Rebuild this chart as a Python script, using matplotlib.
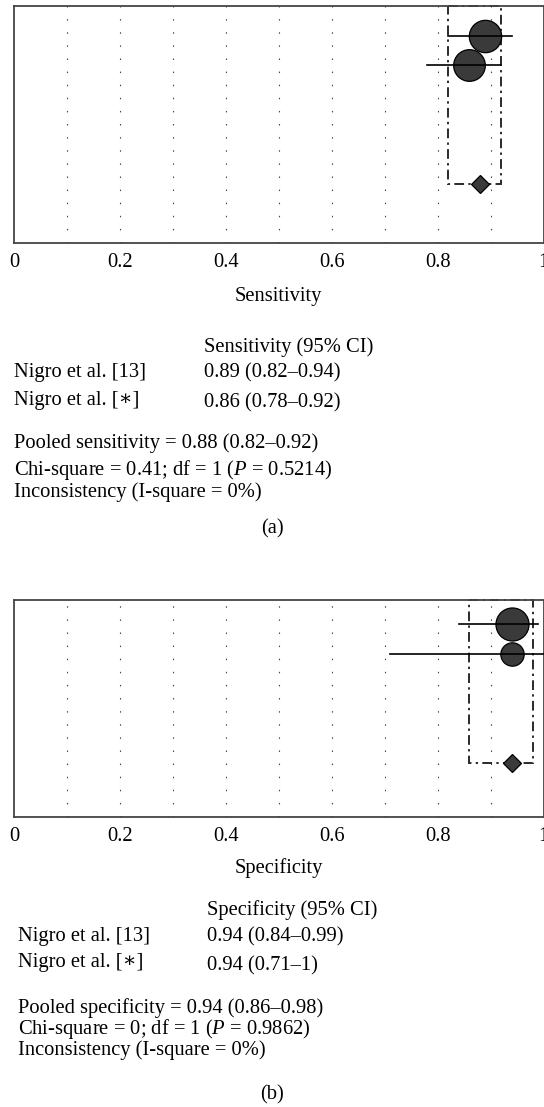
import numpy as np
import matplotlib
matplotlib.use("Agg")
import matplotlib.pyplot as plt
from matplotlib.patches import Rectangle

plt.rcParams['font.family'] = ['Liberation Serif', 'DejaVu Serif']
plt.rcParams['mathtext.fontset'] = 'custom'
plt.rcParams['mathtext.rm'] = 'Liberation Serif'
plt.rcParams['mathtext.it'] = 'Liberation Serif:italic'

# data
studies = ['Nigro et al. [13]', 'Nigro et al. [∗]']

sens = [0.89, 0.86]
sens_lo = [0.82, 0.78]
sens_hi = [0.94, 0.92]
sens_pool = 0.88
sens_pool_lo = 0.82
sens_pool_hi = 0.92

spec = [0.94, 0.94]
spec_lo = [0.84, 0.71]
spec_hi = [0.99, 1.0]
spec_pool = 0.94
spec_pool_lo = 0.86
spec_pool_hi = 0.98

xticks = [0, 0.2, 0.4, 0.6, 0.8, 1]
xticklabels = ['0', '0.2', '0.4', '0.6', '0.8', '1']

W, H = 544, 1107
FS = 14.8
fig = plt.figure(figsize=(W / 100, H / 100), dpi=100)


def px_axes(left, top, right, bottom):
    return fig.add_axes([left / W, 1 - bottom / H, (right - left) / W, (bottom - top) / H])


def forest(ax, est, lo, hi, plo, phi, pest, rows, msizes, label, label_y):
    ax.set_xlim(0, 1)
    ax.set_ylim(8, 0)
    for g in np.arange(0.1, 0.95, 0.1):
        ax.axvline(g, color='#444444', lw=0.8, ls=(0, (1.3, 10.5)), zorder=1)
    ax.add_patch(Rectangle((plo, 0), phi - plo, 6, fill=False, ec='#2a2a2a',
                           lw=1.4, ls=(0, (5, 2.2, 1.2, 2.2)), zorder=2, clip_on=False))
    for e, l, h, y, ms in zip(est, lo, hi, rows, msizes):
        ax.plot([e], [y], 'o', ms=ms, mfc='#3a3a3a', mec='black', mew=0.9, zorder=3)
        ax.plot([l, h], [y, y], color='black', lw=1.2, zorder=4, clip_on=False)
    ax.plot([pest], [6], 'D', ms=9.5, mfc='#3a3a3a', mec='black', mew=0.9, zorder=4)
    ax.set_yticks([])
    ax.set_xticks(xticks)
    ax.set_xticklabels(xticklabels, fontsize=FS)
    ax.tick_params(length=0, pad=7)
    for s in ax.spines.values():
        s.set_color('#444444')
        s.set_linewidth(1.3)
    ax.set_xlabel(label, fontsize=FS, va='center')
    ax.xaxis.set_label_coords(0.5, label_y)


ax1 = px_axes(14, 6, 543.5, 243)
forest(ax1, sens, sens_lo, sens_hi, sens_pool_lo, sens_pool_hi, sens_pool,
       [1, 2], [23.3, 22.8], 'Sensitivity', -53 / 237)

ax2 = px_axes(14, 600, 543.5, 817)
forest(ax2, spec, spec_lo, spec_hi, spec_pool_lo, spec_pool_hi, spec_pool,
       [0.88, 2], [23.8, 16.8], 'Specificity', -51 / 217)


def txt(x, y, s, **kw):
    fig.text(x / W, 1 - y / H, s, fontsize=FS, va='center', **kw)


# panel (a) table
txt(204, 347, 'Sensitivity (95% CI)')
txt(14, 373, studies[0])
txt(204, 373, f'{sens[0]:.2f} ({sens_lo[0]:.2f}–{sens_hi[0]:.2f})')
txt(14, 400, studies[1])
txt(204, 403, f'{sens[1]:.2f} ({sens_lo[1]:.2f}–{sens_hi[1]:.2f})')
txt(14, 443, f'Pooled sensitivity = {sens_pool:.2f} ({sens_pool_lo:.2f}–{sens_pool_hi:.2f})')
txt(14, 470, 'Chi-square = 0.41; df = 1 ($P$ = 0.5214)')
txt(14, 492, 'Inconsistency (I-square = 0%)')
txt(272, 529, '(a)', ha='center')

# panel (b) table
txt(207, 910, 'Specificity (95% CI)')
txt(18, 937, studies[0])
txt(207, 937, f'{spec[0]:.2f} ({spec_lo[0]:.2f}–{spec_hi[0]:.2f})')
txt(18, 963, studies[1])
txt(207, 966, f'{spec[1]:.2f} ({spec_lo[1]:.2f}–{spec_hi[1]:g})')
txt(18, 1008, f'Pooled specificity = {spec_pool:.2f} ({spec_pool_lo:.2f}–{spec_pool_hi:.2f})')
txt(18, 1029, 'Chi-square = 0; df = 1 ($P$ = 0.9862)')
txt(18, 1050, 'Inconsistency (I-square = 0%)')
txt(272, 1095, '(b)', ha='center')

fig.savefig('out.png', dpi=100)
